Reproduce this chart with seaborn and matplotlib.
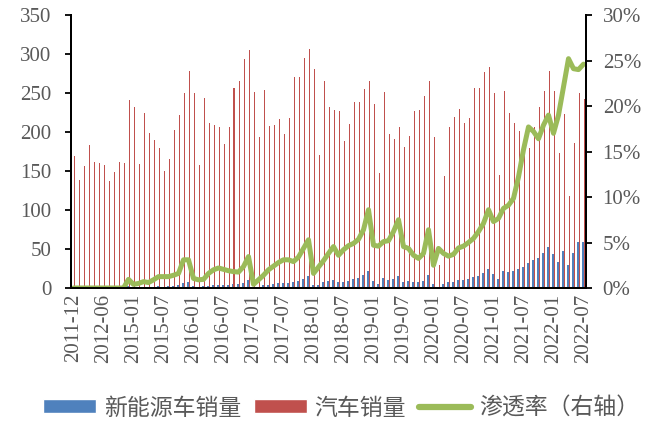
import numpy as np
import pandas as pd
import matplotlib
matplotlib.use('Agg')
import matplotlib.pyplot as plt
import seaborn as sns
from matplotlib.patches import Patch
from matplotlib.lines import Line2D
from matplotlib.ticker import FuncFormatter

# 月份（2012-11 至 2014-11 缺失）
months = ([p.strftime('%Y-%m') for p in pd.period_range('2011-12', '2012-10', freq='M')]
          + [p.strftime('%Y-%m') for p in pd.period_range('2014-12', '2022-07', freq='M')])

# 汽车销量（万辆）
car_sales = [169, 138, 156, 183, 162, 160, 158, 137, 149, 161, 160,
             241, 232, 159, 224, 199, 190, 180, 150, 166, 202, 222, 250, 278,
             250, 158, 243, 211, 209, 207, 185, 207, 256, 265, 293, 305,
             251, 194, 254, 208, 209, 217, 197, 218, 271, 270, 295, 306,
             281, 171, 265, 232, 228, 227, 188, 210, 239, 238, 255, 266,
             236, 148, 251, 198, 191, 206, 181, 195, 227, 228, 246, 265,
             193, 30, 143, 207, 219, 229, 211, 218, 256, 257, 277, 283,
             250, 145, 252, 225, 212, 201, 184, 180, 207, 232, 252, 278,
             253, 173, 223, 118, 186, 250, 242]

# 新能源车销量（万辆）
nev_sales = [0.1, 0.1, 0.1, 0.1, 0.1, 0.1, 0.1, 0.1, 0.1, 0.1, 0.1,
             2.3, 0.9, 0.8, 1.6, 1.2, 1.7, 2.2, 1.9, 2.1, 2.8, 3.6, 6.8, 8.0,
             2.6, 1.4, 2.3, 3.0, 3.5, 4.0, 3.8, 3.9, 4.5, 4.6, 6.8, 10.3,
             1.0, 1.7, 3.4, 4.0, 5.0, 5.8, 6.0, 6.8, 7.8, 9.4, 12.0, 15.4,
             4.0, 3.9, 7.8, 8.5, 10.3, 8.1, 8.1, 9.4, 11.1, 12.8, 16.2, 22.2,
             9.6, 5.3, 12.6, 10.2, 11.8, 15.2, 8.0, 8.5, 8.0, 7.5, 9.4, 16.3,
             4.5, 1.3, 5.3, 7.2, 8.2, 10.1, 9.8, 10.9, 14.0, 16.0, 19.7, 24.4,
             18.0, 11.0, 22.2, 20.5, 21.4, 25.0, 27.4, 32.5, 36.5, 38.0, 45.0, 53.0,
             43.2, 32.9, 48.0, 30.0, 44.4, 59.4, 59.0]

# 渗透率（%）
penetration = [0, 0, 0, 0, 0, 0, 0, 0, 0, 0, 0,
               0.95, 0.4, 0.5, 0.7, 0.6, 0.9, 1.25, 1.25, 1.25, 1.4, 1.6, 3.1, 3.1,
               1.05, 0.9, 0.95, 1.6, 2.0, 2.2, 2.05, 1.9, 1.8, 1.75, 2.35, 3.45,
               0.4, 0.9, 1.4, 2.0, 2.4, 2.8, 3.1, 3.1, 2.9, 3.4, 4.35, 5.3,
               1.6, 2.3, 3.0, 3.8, 4.55, 3.6, 4.2, 4.65, 4.9, 5.35, 6.4, 8.6,
               4.7, 4.6, 5.1, 5.2, 6.2, 7.5, 4.55, 4.35, 3.6, 3.25, 3.8, 6.4,
               2.5, 4.35, 3.8, 3.5, 3.7, 4.4, 4.6, 5.0, 5.45, 6.2, 7.1, 8.6,
               7.3, 7.65, 8.75, 9.1, 9.85, 12.2, 15.2, 17.7, 17.2, 16.4, 17.9, 19.0,
               17.0, 19.0, 22.1, 25.2, 24.1, 24.0, 24.6]

series_names = ['新能源车销量', '汽车销量', '渗透率（右轴）']
blue, red, green = '#4F81BD', '#C0504D', '#9BBB59'
grey = '#595959'

df = pd.DataFrame({
    'month': months * 2,
    'value': nev_sales + car_sales,
    'series': [series_names[0]] * len(months) + [series_names[1]] * len(months),
})

sns.set_style('white')
plt.rcParams['font.family'] = ['Liberation Serif', 'Noto Sans CJK SC']

fig = plt.figure(figsize=(6.63, 4.23), dpi=100)
ax = fig.add_axes([71 / 663, 1 - 288 / 423, 515 / 663, 273 / 423])

sns.barplot(data=df, x='month', y='value', hue='series', order=months,
            palette=[blue, red], width=0.7, saturation=1, linewidth=0,
            legend=False, ax=ax)

ax2 = ax.twinx()
sns.lineplot(x=np.arange(len(months)), y=np.array(penetration) / 100, ax=ax2,
             color=green, linewidth=3.6, solid_joinstyle='round',
             solid_capstyle='round')

n = len(months)
ax.set_xlim(-0.5, n - 0.5)
ax2.set_xlim(-0.5, n - 0.5)
ax.set_ylim(0, 350)
ax.set_yticks(range(0, 351, 50))
ax2.set_ylim(0, 0.30)
ax2.set_yticks(np.arange(0, 0.301, 0.05))
ax2.yaxis.set_major_formatter(FuncFormatter(lambda v, p: f'{v * 100:.0f}%'))

ax.set_xticks(range(0, n, 6))
ax.set_xticklabels(months[::6], rotation=90)
ax.set_xticks(np.arange(-0.5, n, 2), minor=True)
ax.set_xlabel('')
ax.set_ylabel('')
ax2.set_ylabel('')

ax.tick_params(axis='x', which='major', length=0, pad=4, labelsize=15, labelcolor=grey)
ax.tick_params(axis='x', which='minor', length=4, width=1.3, color='black', direction='out')
ax.tick_params(axis='y', length=4, width=1.3, color='black', direction='out',
               pad=10, labelsize=15, labelcolor=grey, left=True)
ax2.tick_params(axis='y', length=4, width=1.3, color='black', direction='out',
                pad=8, labelsize=15, labelcolor=grey, right=True)

for a in (ax, ax2):
    a.spines['top'].set_visible(False)
    for s in ('left', 'right', 'bottom'):
        a.spines[s].set_color('black')
        a.spines[s].set_linewidth(1.4)
    a.grid(False)

handles = [Patch(facecolor=blue), Patch(facecolor=red),
           Line2D([], [], color=green, linewidth=4.5, solid_capstyle='round')]
fig.legend(handles, series_names, loc='center', bbox_to_anchor=(0.515, 1 - 408 / 423),
           ncol=3, frameon=False, prop={'family': 'Noto Sans CJK SC', 'size': 16.5},
           labelcolor=grey, handlelength=2.3, handleheight=0.55,
           columnspacing=0.55, handletextpad=0.35)

fig.savefig('out.png', dpi=100)
